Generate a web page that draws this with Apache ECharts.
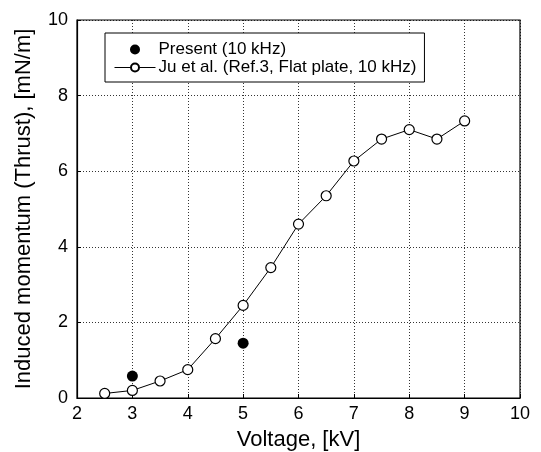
<!DOCTYPE html>
<html>
<head>
<meta charset="utf-8">
<script src="https://cdn.jsdelivr.net/npm/echarts@6/dist/echarts.min.js"></script>
<style>
  html, body { margin: 0; padding: 0; background: #fff; }
  #container { width: 541px; height: 452px; }
</style>
</head>
<body>
<div id="container"></div>
<script>
// 数据
var presentVolt = [3, 5];
var presentThrust = [0.58, 1.45];
var juVolt = [2.5, 3, 3.5, 4, 4.5, 5, 5.5, 6, 6.5, 7, 7.5, 8, 8.5, 9];
var juThrust = [0.12, 0.2, 0.45, 0.75, 1.57, 2.45, 3.45, 4.6, 5.35, 6.27, 6.85, 7.1, 6.85, 7.33];

function pairs(xs, ys) {
  return xs.map(function (x, i) { return [x, ys[i]]; });
}

var font = 'Liberation Sans';
var chart = echarts.init(document.getElementById('container'));
var option = {
  backgroundColor: '#fff',
  animation: false,
  grid: {
    left: 77, right: 21, top: 20, bottom: 54,
    outerBoundsMode: 'none', containLabel: false,
    show: true, borderColor: '#000', borderWidth: 1.2
  },
  legend: {
    orient: 'vertical',
    left: 105, top: 33,
    padding: [8, 8, 6, 9],
    itemGap: 1,
    itemWidth: 41, itemHeight: 10,
    backgroundColor: '#fff',
    borderColor: '#000', borderWidth: 1,
    borderRadius: 0,
    lineStyle: { width: 1 },
    textStyle: { fontFamily: font, fontSize: 17, color: '#000', padding: [0, 0, 0, -2] },
    data: ['Present (10 kHz)', 'Ju et al. (Ref.3, Flat plate, 10 kHz)']
  },
  xAxis: {
    type: 'value', min: 2, max: 10, interval: 1,
    name: 'Voltage, [kV]', nameLocation: 'middle', nameGap: 31,
    nameTextStyle: { fontFamily: font, fontSize: 22, color: '#000' },
    axisLine: { show: true, lineStyle: { color: '#000', width: 1.2 } },
    axisTick: { show: true, inside: true, length: 4, lineStyle: { color: '#000' } },
    axisLabel: { fontFamily: font, fontSize: 18, color: '#000', margin: 7 },
    splitLine: { show: true, lineStyle: { color: '#000', type: [1, 2], width: 0.8 } }
  },
  yAxis: {
    type: 'value', min: 0, max: 10, interval: 2,
    name: 'Induced momentum (Thrust), [mN/m]', nameLocation: 'middle', nameGap: 42,
    nameTextStyle: { fontFamily: font, fontSize: 22, color: '#000' },
    axisLine: { show: true, lineStyle: { color: '#000', width: 1.2 } },
    axisTick: { show: true, inside: true, length: 4, lineStyle: { color: '#000' } },
    axisLabel: { fontFamily: font, fontSize: 18, color: '#000', margin: 9 },
    splitLine: { show: true, lineStyle: { color: '#000', type: [1, 2], width: 0.8 } }
  },
  series: [
    {
      name: 'Ju et al. (Ref.3, Flat plate, 10 kHz)',
      type: 'line',
      data: pairs(juVolt, juThrust),
      symbol: 'circle', symbolSize: 10,
      lineStyle: { color: '#000', width: 1 },
      itemStyle: { color: '#fff', borderColor: '#000', borderWidth: 1.2 },
      z: 3
    },
    {
      name: 'Present (10 kHz)',
      type: 'scatter',
      data: pairs(presentVolt, presentThrust),
      symbol: 'circle', symbolSize: 11,
      itemStyle: { color: '#000', opacity: 1 },
      z: 4
    }
  ]
};
chart.setOption(option);
</script>
</body>
</html>
